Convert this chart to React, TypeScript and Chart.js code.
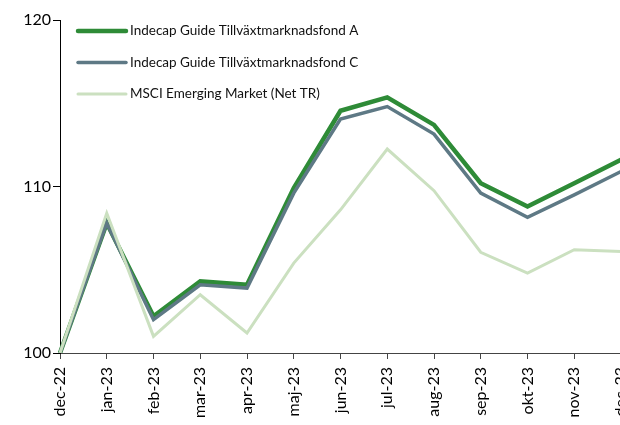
import React, { useEffect, useRef } from "react";
import { Chart, registerables } from "chart.js";

Chart.register(...registerables);

const categories = ["dec-22", "jan-23", "feb-23", "mar-23", "apr-23", "maj-23", "jun-23", "jul-23", "aug-23", "sep-23", "okt-23", "nov-23", "dec-23"];
const fundA = [100, 107.8, 102.2, 104.3, 104.1, 109.9, 114.55, 115.35, 113.7, 110.2, 108.8, 110.2, 111.6];
const fundC = [100, 107.8, 102.0, 104.1, 103.9, 109.6, 114.05, 114.8, 113.15, 109.6, 108.15, 109.5, 110.9];
const msci = [100, 108.4, 101.0, 103.5, 101.2, 105.4, 108.6, 112.25, 109.75, 106.05, 104.8, 106.2, 106.1];
const yTicks = [100, 110, 120];

const labels = {
  a: "Indecap Guide Tillväxtmarknadsfond A",
  c: "Indecap Guide Tillväxtmarknadsfond C",
  m: "MSCI Emerging Market (Net TR)",
};

const CW = 680;
const CH = 500;

const legendPlugin = {
  id: "insideLegend",
  afterDraw(chart: any) {
    const ctx = chart.ctx;
    const ys = [31, 62.5, 94];
    const dsOrder = [0, 1, 2];
    ctx.save();
    dsOrder.forEach((i, k) => {
      const ds = chart.data.datasets[i];
      ctx.beginPath();
      ctx.strokeStyle = ds.borderColor;
      ctx.lineWidth = ds.borderWidth;
      ctx.lineCap = "round";
      ctx.moveTo(78, ys[k]);
      ctx.lineTo(126, ys[k]);
      ctx.stroke();
      ctx.fillStyle = "#111";
      ctx.font = "13.5px Lato";
      ctx.textBaseline = "middle";
      ctx.textAlign = "left";
      ctx.fillText(ds.label, 130, ys[k]);
    });
    ctx.restore();
  },
};

export default function App() {
  const ref = useRef<HTMLCanvasElement>(null);
  useEffect(() => {
    if (!ref.current) return;
    const chart = new Chart(ref.current, {
      type: "line",
      data: {
        labels: categories,
        datasets: [
          { label: labels.a, data: fundA, borderColor: "#2E8B37", borderWidth: 4.5, pointRadius: 0, tension: 0, order: 2, borderJoinStyle: "miter" },
          { label: labels.c, data: fundC, borderColor: "#5E7985", borderWidth: 3.5, pointRadius: 0, tension: 0, order: 1, borderJoinStyle: "miter" },
          { label: labels.m, data: msci, borderColor: "#CBE0C0", borderWidth: 3, pointRadius: 0, tension: 0, order: 0, borderJoinStyle: "miter" },
        ],
      },
      options: {
        animation: false,
        responsive: false,
        maintainAspectRatio: false,
        layout: { padding: { top: 20, right: CW - 621, left: 0, bottom: 0 } },
        plugins: { legend: { display: false }, tooltip: { enabled: false } },
        scales: {
          x: {
            offset: false,
            grid: { display: true, drawOnChartArea: false, drawTicks: true, tickLength: 6, color: "#444" },
            border: { display: true, color: "#444", width: 1 },
            ticks: { minRotation: 90, maxRotation: 90, autoSkip: false, padding: 8, color: "#000", font: { family: "Lato", size: 16 } },
            afterFit(scale: any) { scale.height = CH - 353 - 0; },
          },
          y: {
            min: 100,
            max: 120,
            afterBuildTicks(scale: any) { scale.ticks = yTicks.map((v) => ({ value: v })); },
            grid: { display: true, drawOnChartArea: false, drawTicks: true, tickLength: 7, color: "#000" },
            border: { display: true, color: "#000", width: 1 },
            ticks: { padding: 2, color: "#000", font: { family: "Lato", size: 16 } },
            afterFit(scale: any) { scale.width = 60; },
          },
        },
      },
      plugins: [legendPlugin],
    });
    return () => chart.destroy();
  }, []);
  return (
    <div style={{ position: "fixed", left: 0, top: 0, width: 620, height: 425, overflow: "hidden", background: "#fff" }}>
      <canvas ref={ref} width={CW} height={CH} style={{ width: CW, height: CH, display: "block" }} />
    </div>
  );
}
